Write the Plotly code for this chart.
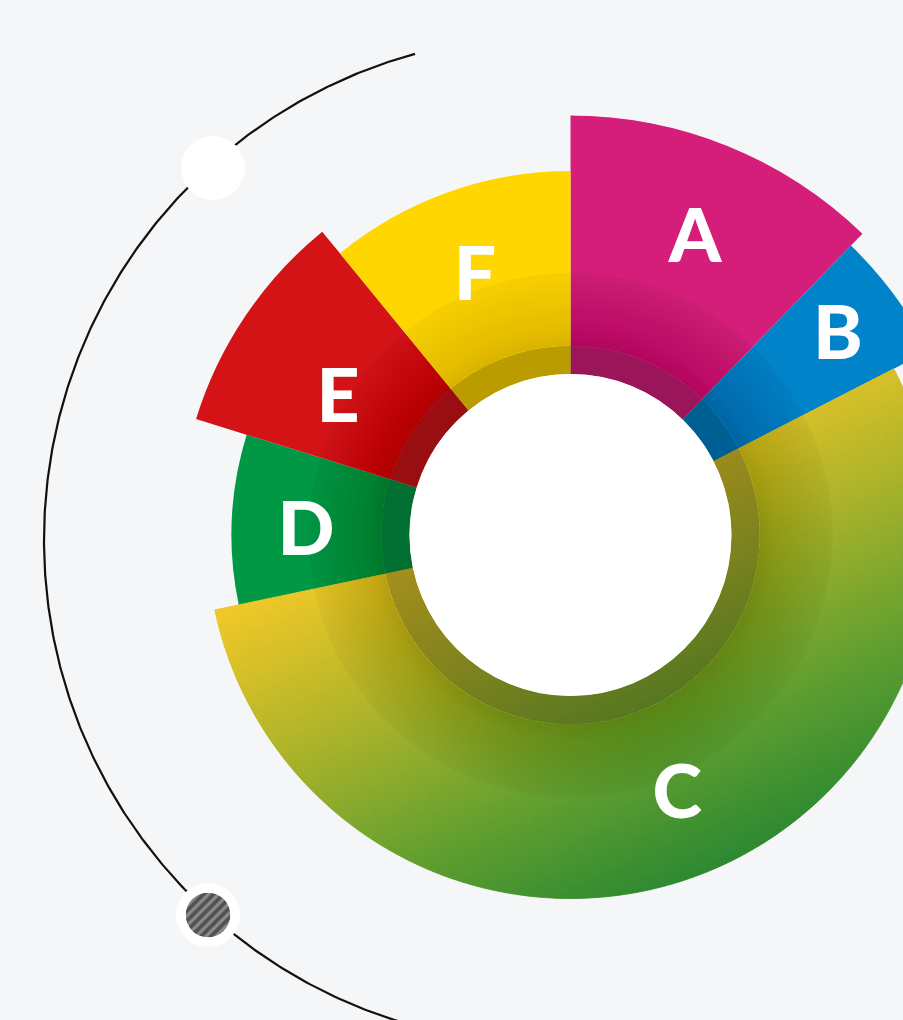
import numpy as np
import plotly.graph_objects as go

# ---------------- data ----------------
labels = ["A", "B", "C", "D", "E", "F"]
share_deg = [44.1, 18.7, 195.3, 29.1, 33.5, 39.3]      # angular share of each segment (deg)
outer_r = [419.5, 403.0, 363.5, 339.0, 392.0, 364.0]   # outer radius of each segment
inner_r = 161.0                                        # common inner radius
seg_colors = ["#d41e7a", "#0083c8", "#a9b22c", "#009844", "#d41317", "#ffd600"]

# ---------------- style ----------------
W, H = 1000, 1020
CX, CY = 570.5, 535.0
RMAX = 420.0
BG = "#f5f6f8"
LABEL_R = [317.4, 331.0, 284.7, 264.5, 267.4, 271.4]
LABEL_T = [23.1, 53.9, 158.0, 269.8, 299.6, 339.4]
LABEL_FONT = dict(family="Lato, Open Sans, sans-serif", size=75, color="white", weight=900)
RING_W = 28
RING_ALPHA = 0.27
SHADOW_OUT = 262.0
GRAD_ORIGIN = (220.0, 615.0)
GRAD_DIR = (0.42, 0.91)
GRAD_S = [0, 150, 300, 450]
GRAD_RGB = [(240, 200, 40), (175, 180, 42), (100, 160, 48), (40, 135, 50)]
ARC_C, ARC_R = (548.0, 540.0), 504.0
DOTS = [(213, 168), (208, 915)]

share = np.array(share_deg)
starts = np.cumsum(share) - share
mids = starts + share / 2
outer = np.array(outer_r)


def grad_color(x, y):
    s = (x - GRAD_ORIGIN[0]) * GRAD_DIR[0] + (y - GRAD_ORIGIN[1]) * GRAD_DIR[1]
    rgb = [np.interp(s, GRAD_S, [c[k] for c in GRAD_RGB]) for k in range(3)]
    return "rgb(%d,%d,%d)" % tuple(int(round(v)) for v in rgb)


fig = go.Figure()

# main segments
fig.add_trace(go.Barpolar(
    theta=mids, width=share, base=[inner_r] * len(labels), r=outer - inner_r,
    marker=dict(color=seg_colors, line=dict(width=0)),
    text=labels, hoverinfo="text", subplot="polar",
))

# gradient fill for segment C
ci = labels.index("C")
n_ang, n_rad = 170, 30
t_edges = np.linspace(starts[ci], starts[ci] + share[ci], n_ang + 1)
r_edges = np.linspace(inner_r, outer[ci], n_rad + 1)
ct, cw, cb, cr, cc = [], [], [], [], []
for i in range(n_rad):
    for j in range(n_ang):
        t0, t1 = t_edges[j], t_edges[j + 1]
        r0, r1 = r_edges[i], r_edges[i + 1]
        tm, rm = (t0 + t1) / 2, (r0 + r1) / 2
        x = CX + rm * np.sin(np.radians(tm))
        y = CY - rm * np.cos(np.radians(tm))
        ct.append(round(tm, 3)); cw.append(round(t1 - t0, 4))
        cb.append(round(r0, 2)); cr.append(round(r1 - r0, 3))
        cc.append(grad_color(x, y))
fig.add_trace(go.Barpolar(
    theta=ct, width=cw, base=cb, r=cr,
    marker=dict(color=cc, line=dict(color=cc, width=0.8)),
    hoverinfo="skip", subplot="polar",
))

# dark inner ring
fig.add_trace(go.Barpolar(
    theta=[0], width=[360], base=[inner_r], r=[RING_W],
    marker=dict(color="rgba(0,0,0,%.3f)" % RING_ALPHA, line=dict(width=0)),
    hoverinfo="skip", subplot="polar",
))

# soft radial shadow
r_in = inner_r + RING_W
N = 24
r_out = r_in + (SHADOW_OUT - r_in) * np.arange(1, N + 1) / N
mids_r = r_out - (SHADOW_OUT - r_in) / N / 2
T = 0.035 + 0.11 * ((SHADOW_OUT - mids_r) / (SHADOW_OUT - r_in)) ** 1.2
alphas = []
for j in range(N):
    if j < N - 1:
        alphas.append(1 - (1 - T[j]) / (1 - T[j + 1]))
    else:
        alphas.append(T[j])
fig.add_trace(go.Barpolar(
    theta=[0] * N, width=[360] * N, base=[r_in] * N, r=r_out - r_in,
    marker=dict(color=["rgba(0,0,0,%.4f)" % a for a in alphas], line=dict(width=0)),
    hoverinfo="skip", subplot="polar",
))

# white hole
fig.add_trace(go.Barpolar(
    theta=[0], width=[360], base=[0], r=[inner_r],
    marker=dict(color="white", line=dict(width=0)),
    hoverinfo="skip", subplot="polar",
))

# labels
fig.add_trace(go.Scatterpolar(
    r=LABEL_R, theta=LABEL_T, mode="text",
    text=labels,
    textfont=LABEL_FONT, textposition="middle center",
    hoverinfo="skip", subplot="polar",
))

# decorative arc and dots (pixel-space cartesian overlay)
arc_t = np.radians(np.linspace(344.7, 185, 400))
fig.add_trace(go.Scatter(
    x=ARC_C[0] + ARC_R * np.sin(arc_t), y=ARC_C[1] - ARC_R * np.cos(arc_t),
    mode="lines", line=dict(color="#111111", width=2.2), hoverinfo="skip",
))
fig.add_trace(go.Scatter(
    x=[d[0] for d in DOTS], y=[d[1] for d in DOTS], mode="markers",
    marker=dict(size=64, color="white", line=dict(width=0)), hoverinfo="skip",
))

# hatched dot
fig.add_trace(go.Barpolar(
    theta=[0], width=[360], base=[0], r=[1],
    marker=dict(color="#8c8c8c", line=dict(width=0),
                pattern=dict(shape="/", fgcolor="#151515", bgcolor="#8c8c8c",
                             size=7, solidity=0.55)),
    hoverinfo="skip", subplot="polar2",
))

hx, hy, hr = DOTS[1][0], DOTS[1][1], 22.5
fig.update_layout(
    width=W, height=H, autosize=False,
    margin=dict(l=0, r=0, t=0, b=0, pad=0),
    paper_bgcolor=BG, plot_bgcolor="rgba(0,0,0,0)",
    showlegend=False,
    xaxis=dict(range=[0, W], visible=False, domain=[0, 1], fixedrange=True),
    yaxis=dict(range=[H, 0], visible=False, domain=[0, 1], fixedrange=True),
    polar=dict(
        domain=dict(x=[(CX - RMAX) / W, (CX + RMAX) / W],
                    y=[(H - CY - RMAX) / H, (H - CY + RMAX) / H]),
        bgcolor="rgba(0,0,0,0)", barmode="overlay",
        radialaxis=dict(range=[0, RMAX], visible=False, showgrid=False),
        angularaxis=dict(rotation=90, direction="clockwise", visible=False, showgrid=False),
    ),
    polar2=dict(
        domain=dict(x=[(hx - hr) / W, (hx + hr) / W],
                    y=[(H - hy - hr) / H, (H - hy + hr) / H]),
        bgcolor="rgba(0,0,0,0)", barmode="overlay",
        radialaxis=dict(range=[0, 1], visible=False, showgrid=False),
        angularaxis=dict(visible=False, showgrid=False),
    ),
)

fig.write_html(
    "out.html",
    config={"displayModeBar": False},
    post_script=(
        "document.documentElement.style.margin='0';"
        "document.body.style.margin='0';"
        "document.body.style.overflow='hidden';"
        "document.documentElement.style.background='" + BG + "';"
        "document.body.style.background='" + BG + "';"
    ),
)
